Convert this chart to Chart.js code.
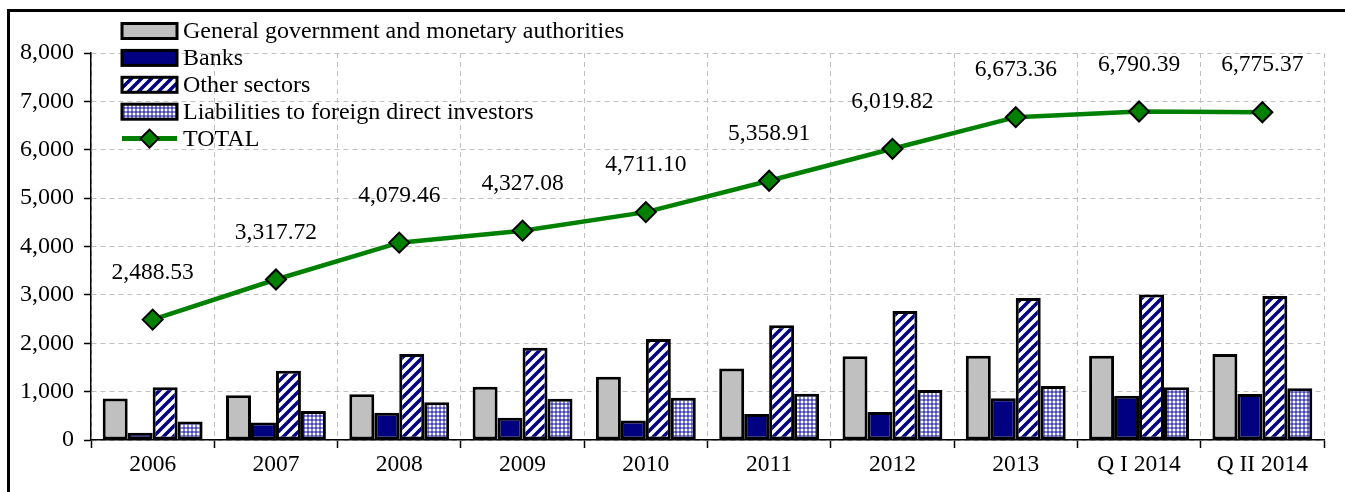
<!DOCTYPE html>
<html>
<head>
<meta charset="utf-8">
<script src="https://cdn.jsdelivr.net/npm/chart.js@4.4.0/dist/chart.umd.min.js"></script>
<style>
  html, body { margin: 0; padding: 0; background: #fff; }
  #wrap { position: relative; width: 1345px; height: 492px; }
</style>
</head>
<body>
<div id="wrap"><canvas id="ExternalDebtChart" width="1345" height="492"></canvas></div>
<script>
//
// Data
var categories = ['2006', '2007', '2008', '2009', '2010', '2011', '2012', '2013', 'Q I 2014', 'Q II 2014'];
var government = [860, 925, 945, 1100, 1308, 1480, 1729, 1742, 1742, 1777];
var banks = [150, 360, 565, 460, 405, 537, 579, 861, 915, 950];
var other_sectors = [1090, 1430, 1777, 1907, 2087, 2370, 2665, 2934, 3010, 2975];
var fdi_liabilities = [380, 600, 780, 855, 875, 957, 1033, 1116, 1089, 1068];
var total = [2488.53, 3317.72, 4079.46, 4327.08, 4711.10, 5358.91, 6019.82, 6673.36, 6790.39, 6775.37];
var y_ticks = [0, 1000, 2000, 3000, 4000, 5000, 6000, 7000, 8000];

var serif = '"Liberation Serif", "Times New Roman", serif';

//
// Patterns
function stripes() {
    var c = document.createElement('canvas');
    c.width = 10; c.height = 10;
    var g = c.getContext('2d');
    g.fillStyle = '#fff';
    g.fillRect(0, 0, 10, 10);
    g.strokeStyle = '#000080';
    g.lineWidth = 3.5;
    g.beginPath();
    g.moveTo(-2, 12); g.lineTo(12, -2);
    g.moveTo(-7, 7); g.lineTo(7, -7);
    g.moveTo(3, 17); g.lineTo(17, 3);
    g.stroke();
    return g.createPattern(c, 'repeat');
}
function crosshatch() {
    var c = document.createElement('canvas');
    c.width = 4; c.height = 4;
    var g = c.getContext('2d');
    g.fillStyle = '#4646b4';
    g.fillRect(0, 0, 4, 4);
    g.fillStyle = '#ffffff';
    g.fillRect(1, 1, 2, 2);
    g.fillStyle = '#c8c8ee';
    g.fillRect(1.5, 0, 1, 4);
    g.fillRect(0, 1.5, 4, 1);
    g.fillStyle = '#ffffff';
    g.fillRect(1, 1, 2, 2);
    return g.createPattern(c, 'repeat');
}

//
// Plugins
var framePlugin = {
    id: 'frame',
    beforeDraw: function(chart) {
        var ctx = chart.ctx;
        ctx.save();
        ctx.fillStyle = '#000';
        ctx.fillRect(7, 9, 3, chart.height);
        ctx.fillRect(7, 9, chart.width, 3);
        ctx.restore();
    }
};

var totalLabels = {
    id: 'totalLabels',
    afterDatasetsDraw: function(chart) {
        var ctx = chart.ctx;
        var meta = chart.getDatasetMeta(4);
        ctx.save();
        ctx.font = '23.5px ' + serif;
        ctx.fillStyle = '#000';
        ctx.textAlign = 'center';
        ctx.textBaseline = 'middle';
        meta.data.forEach(function(pt, i) {
            var txt = total[i].toLocaleString('en-US', {minimumFractionDigits: 2, maximumFractionDigits: 2});
            ctx.fillText(txt, pt.x, pt.y - 47);
        });
        ctx.restore();
    }
};

var boxLegend = {
    id: 'boxLegend',
    afterDraw: function(chart) {
        var ctx = chart.ctx;
        var x = 122, y = 31, step = 26.9;
        ctx.save();
        ctx.font = '24px ' + serif;
        ctx.textBaseline = 'middle';
        chart.data.datasets.forEach(function(ds, i) {
            var cy = y + i * step;
            if (ds.type === 'line') {
                ctx.strokeStyle = ds.borderColor;
                ctx.lineWidth = 5;
                ctx.beginPath();
                ctx.moveTo(x, cy); ctx.lineTo(x + 55, cy);
                ctx.stroke();
                ctx.beginPath();
                ctx.moveTo(x + 27.5, cy - 9); ctx.lineTo(x + 36.5, cy);
                ctx.lineTo(x + 27.5, cy + 9); ctx.lineTo(x + 18.5, cy);
                ctx.closePath();
                ctx.fillStyle = ds.pointBackgroundColor;
                ctx.fill();
                ctx.lineWidth = 2;
                ctx.strokeStyle = '#000';
                ctx.stroke();
            } else {
                ctx.fillStyle = ds.backgroundColor;
                ctx.fillRect(x, cy - 7.5, 55, 15);
                ctx.lineWidth = 3;
                ctx.strokeStyle = '#000';
                ctx.strokeRect(x, cy - 7.5, 55, 15);
            }
            ctx.fillStyle = '#000';
            ctx.fillText(ds.label, x + 61, cy + 1);
        });
        ctx.restore();
    }
};

//
// Draw Chart
var bar_common = {
    borderColor: '#000',
    borderWidth: 3,
    borderSkipped: false,
    categoryPercentage: 0.81,
    barPercentage: 1.0,
    order: 1
};

new Chart(document.getElementById('ExternalDebtChart').getContext('2d'), {
    type: 'bar',
    data: {
        labels: categories,
        datasets: [
            Object.assign({label: 'General government and monetary authorities', data: government, backgroundColor: '#c0c0c0'}, bar_common),
            Object.assign({label: 'Banks', data: banks, backgroundColor: '#000080'}, bar_common),
            Object.assign({label: 'Other sectors', data: other_sectors, backgroundColor: stripes()}, bar_common),
            Object.assign({label: 'Liabilities to foreign direct investors', data: fdi_liabilities, backgroundColor: crosshatch()}, bar_common),
            {
                type: 'line',
                label: 'TOTAL',
                data: total,
                borderColor: '#008000',
                borderWidth: 4.5,
                pointStyle: 'rectRot',
                pointRadius: 10,
                pointBackgroundColor: '#008000',
                pointBorderColor: '#000',
                pointBorderWidth: 2,
                tension: 0,
                order: 0
            }
        ]
    },
    options: {
        responsive: false,
        animation: false,
        events: [],
        layout: { padding: { top: 53, right: 21, left: 0, bottom: 0 } },
        plugins: {
            legend: { display: false },
            tooltip: { enabled: false }
        },
        scales: {
            x: {
                offset: true,
                grid: {
                    offset: true,
                    color: '#c0c0c0',
                    lineWidth: 1,
                    tickColor: '#000',
                    tickLength: 8,
                    tickWidth: 1.5,
                    tickBorderDash: []
                },
                border: { color: '#000', width: 1.5, dash: [5, 4] },
                ticks: {
                    color: '#000',
                    font: { family: serif, size: 23.5 },
                    padding: 3,
                    maxRotation: 0,
                    autoSkip: false
                },
                afterFit: function(scale) { scale.height = 52; }
            },
            y: {
                min: 0,
                max: 8000,
                afterBuildTicks: function(scale) {
                    scale.ticks = y_ticks.map(function(v) { return {value: v}; });
                },
                grid: {
                    color: '#c0c0c0',
                    lineWidth: 1,
                    tickColor: '#000',
                    tickLength: 7,
                    tickWidth: 1.5,
                    tickBorderDash: []
                },
                border: { color: '#000', width: 1.5, dash: [5, 4] },
                ticks: {
                    color: '#000',
                    font: { family: serif, size: 24 },
                    padding: 10,
                    callback: function(v) { return v.toLocaleString('en-US'); }
                },
                afterFit: function(scale) { scale.width = 91; }
            }
        }
    },
    plugins: [framePlugin, totalLabels, boxLegend]
});
</script>
</body>
</html>
